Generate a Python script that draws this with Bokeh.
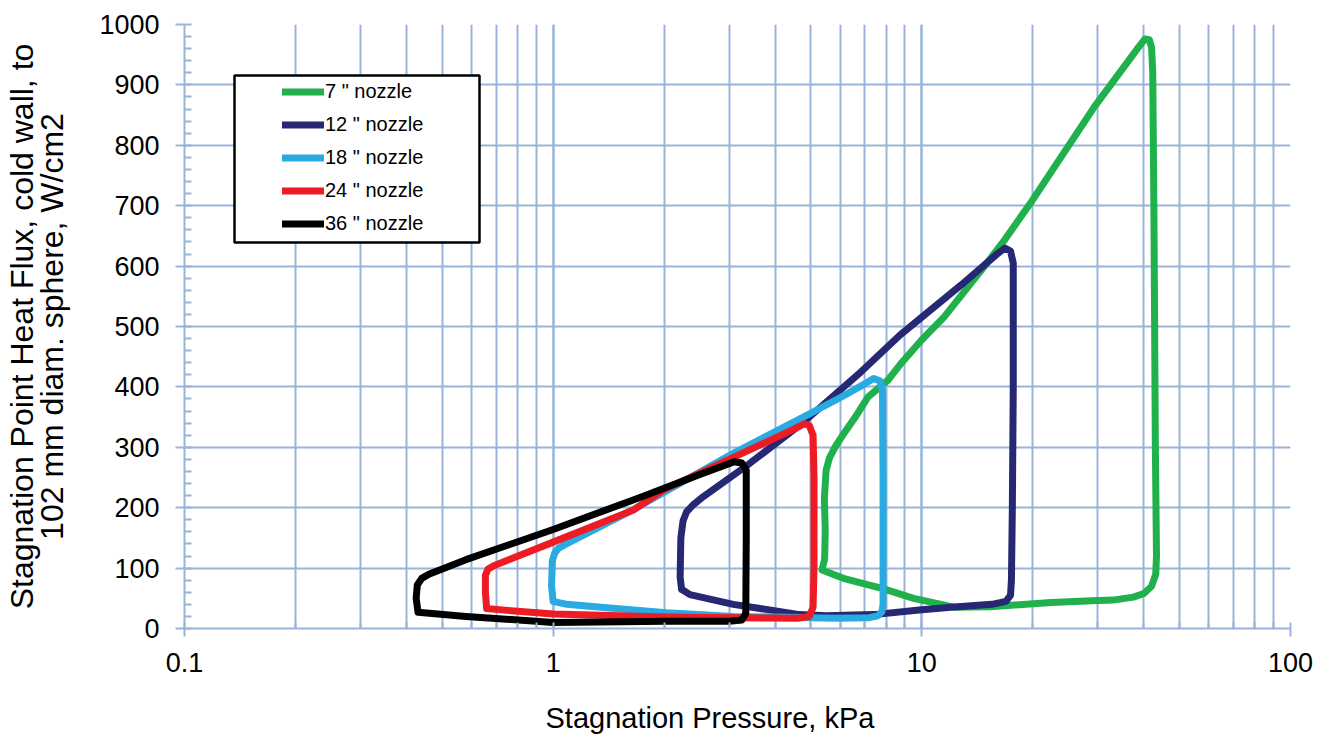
from bokeh.plotting import figure
from bokeh.models import (LogTicker, SingleIntervalTicker, CustomJSTickFormatter, Legend,
                          LegendItem, BoxAnnotation, Range1d, Title)
from bokeh.embed import file_html
from bokeh.resources import INLINE

# ---------------- data ----------------
labels = ['7 " nozzle', '12 " nozzle', '18 " nozzle', '24 " nozzle', '36 " nozzle']
colors = ["#20B04C", "#262873", "#29ABE2", "#ED1C24", "#000000"]

x7 = [5.36, 5.45, 5.47, 5.44, 5.5, 5.62, 5.85, 6.1, 6.6, 7.14, 8.09, 8.73, 10.0, 11.5, 14.8,
      16.8, 20.0, 29.4, 39.0, 40.3, 41.4, 42.0, 42.3, 42.6, 42.8, 43.0, 43.3, 43.1, 42.0, 40.0,
      37.5, 33.0, 29.0, 22.4, 15.3, 12.3, 9.5, 7.84, 6.2, 5.36]
y7 = [97, 115, 163, 215, 262, 283, 303, 320, 350, 383, 411, 437, 478, 516, 600,
      644, 710, 864, 965, 976, 975, 962, 920, 700, 500, 300, 120, 90, 70, 58,
      52, 47, 46, 43, 36, 35, 50, 66, 82, 97]

x12 = [2.23, 2.21, 2.22, 2.25, 2.3, 2.4, 2.55, 3.34, 4.74, 6.84, 8.73, 12.8, 16.0, 16.8, 17.4,
       17.7, 17.7, 17.6, 17.5, 17.4, 16.9, 15.5, 12.0, 10.0, 7.4, 5.5, 4.66, 3.08, 2.35, 2.23]
y12 = [65, 85, 150, 178, 193, 205, 218, 269, 340, 425, 486, 569, 620, 630, 625,
       605, 400, 200, 80, 55, 45, 40, 35, 31, 23, 21, 23, 40, 56, 65]

x18 = [1.0, 0.99, 0.995, 1.01, 1.035, 1.07, 1.65, 3.08, 4.74, 6.0, 7.0, 7.4, 7.7, 7.82, 7.85,
       7.85, 7.8, 7.6, 7.2, 5.84, 5.0, 3.08, 2.03, 1.3, 1.09, 1.0]
y18 = [45, 70, 112, 125, 133, 138, 197, 290, 349, 382, 405, 414, 410, 395, 250,
       40, 28, 21, 18, 17, 18, 20, 26, 36, 40, 45]

x24 = [0.66, 0.655, 0.655, 0.665, 0.69, 1.0, 1.65, 2.0, 3.0, 4.5, 4.8, 4.95, 5.07, 5.1, 5.1,
       5.07, 4.95, 4.6, 3.08, 2.03, 1.0, 0.75, 0.66]
y24 = [33, 60, 88, 98, 104, 143, 196, 230, 280, 330, 339, 336, 320, 250, 100,
       35, 20, 17, 18, 19, 24, 30, 33]

x36 = [0.43, 0.425, 0.428, 0.44, 0.46, 0.58, 1.0, 1.72, 2.5, 3.1, 3.25, 3.34, 3.34, 3.33,
       3.25, 3.0, 2.03, 1.0, 0.58, 0.43]
y36 = [27, 50, 72, 83, 90, 114, 164, 217, 255, 276, 274, 262, 150, 25,
       14, 12, 12, 10, 20, 27]

x_title = "Stagnation Pressure, kPa"
y_title = "Stagnation Point Heat Flux, cold wall, to\n102 mm diam. sphere, W/cm2"
# ----------------------------------------------------------------

GRID = "#98B4D8"
FONT = "Liberation Sans"

p = figure(x_axis_type="log", x_range=Range1d(0.1, 100), y_range=Range1d(0, 1000),
           output_backend="svg", toolbar_location=None,
           frame_width=1106, frame_height=604,
           min_border_left=183, min_border_right=26, min_border_top=24, min_border_bottom=0)
p.outline_line_color = None
p.background_fill_color = "white"

series = [(x7, y7), (x12, y12), (x18, y18), (x24, y24), (x36, y36)]
renderers = []
for (xs, ys), c in zip(series, colors):
    r = p.line(xs, ys, line_color=c, line_width=7, line_cap="round", line_join="round")
    renderers.append(r)

# grid
p.xgrid.grid_line_color = GRID
p.xgrid.grid_line_width = 2
p.xgrid.minor_grid_line_color = GRID
p.xgrid.minor_grid_line_width = 2
p.ygrid.grid_line_color = GRID
p.ygrid.grid_line_width = 2

# x axis
xa = p.xaxis[0]
xa.ticker = LogTicker(mantissas=[1], num_minor_ticks=10)
xa.formatter = CustomJSTickFormatter(code="return tick < 1 ? tick.toFixed(1) : tick.toFixed(0);")
xa.axis_line_color = GRID
xa.axis_line_width = 2
xa.major_tick_line_color = GRID
xa.major_tick_line_width = 2
xa.major_tick_in = 0
xa.major_tick_out = 8
xa.minor_tick_line_color = GRID
xa.minor_tick_line_width = 2
xa.minor_tick_in = 6
xa.minor_tick_out = 0
xa.major_label_text_font = FONT
xa.major_label_text_font_size = "27px"
xa.major_label_text_color = "black"
xa.major_label_standoff = 16

# x title, slightly left of centre as in the reference
p.add_layout(Title(text=x_title, align="left", offset=361, standoff=50,
                   text_font=FONT, text_font_size="29px", text_font_style="normal",
                   text_color="black"), "below")

# y axis
ya = p.yaxis[0]
ya.ticker = SingleIntervalTicker(interval=100, num_minor_ticks=5)
ya.axis_line_color = GRID
ya.axis_line_width = 2
ya.major_tick_line_color = GRID
ya.major_tick_line_width = 2
ya.major_tick_in = 0
ya.major_tick_out = 9
ya.minor_tick_line_color = GRID
ya.minor_tick_line_width = 2
ya.minor_tick_in = 7
ya.minor_tick_out = 0
ya.major_label_text_font = FONT
ya.major_label_text_font_size = "27px"
ya.major_label_text_color = "black"
ya.major_label_standoff = 16
ya.axis_label = y_title
ya.axis_label_text_font = FONT
ya.axis_label_text_font_size = "32px"
ya.axis_label_text_font_style = "normal"
ya.axis_label_text_color = "black"
ya.axis_label_text_line_height = 0.85
ya.axis_label_standoff = 26

# legend box + legend
box = BoxAnnotation(left=50, right=295, top=553, bottom=386,
                    left_units="screen", right_units="screen",
                    top_units="screen", bottom_units="screen",
                    fill_color="white", fill_alpha=1,
                    line_color="black", line_alpha=1, line_width=2.5)
p.add_layout(box)

items = [LegendItem(label=lab, renderers=[r]) for lab, r in zip(labels, renderers)]
legend = Legend(items=items, location=(98, 388), padding=0, margin=0, spacing=0,
                glyph_width=42, glyph_height=33, label_height=33, label_standoff=1,
                label_text_font=FONT, label_text_font_size="20px", label_text_color="black",
                background_fill_alpha=0, border_line_alpha=0)
p.add_layout(legend, "center")

open("out.html", "w").write(file_html(p, INLINE))
